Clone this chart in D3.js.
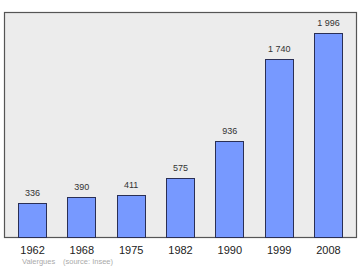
<!DOCTYPE html>
<html>
<head>
<meta charset="utf-8">
<script src="https://cdn.jsdelivr.net/npm/d3@7"></script>
<style>
  body { margin: 0; background: #fff; }
  text { font-family: "Liberation Sans", Arial, sans-serif; }
</style>
</head>
<body>
<svg id="mainsvg" width="360" height="270"></svg>
<script>
var years = ["1962", "1968", "1975", "1982", "1990", "1999", "2008"];
var population = [336, 390, 411, 575, 936, 1740, 1996];
var labels = ["336", "390", "411", "575", "936", "1 740", "1 996"];
var commune = "Valergues";
var source = "(source: Insee)";

(function () {
  var svg = d3.select("#mainsvg");
  var frameLeft = 4, frameTop = 12, frameRight = 356, frameBottom = 237;

  // frame
  svg.append("rect")
    .attr("x", frameLeft + 0.5).attr("y", frameTop + 0.5)
    .attr("width", frameRight - frameLeft).attr("height", frameBottom - frameTop)
    .style("fill", "#ececec")
    .style("stroke", "#555")
    .style("stroke-width", 1.2);

  var x = d3.scaleBand()
    .domain(years)
    .range([18, 342])
    .paddingInner(0.432)
    .paddingOuter(0);

  var y = d3.scaleLinear().domain([0, 2200]).range([frameBottom, frameTop]);

  svg.append("g").attr("class", "bars")
    .selectAll("rect")
    .data(population)
    .enter()
    .append("rect")
    .attr("x", function (d, i) { return Math.round(x(years[i])) + 0.5; })
    .attr("y", function (d) { return Math.round(y(d)) + 0.5; })
    .attr("width", Math.round(x.bandwidth()))
    .attr("height", function (d) { return frameBottom - Math.round(y(d)); })
    .style("fill", "#7799ff")
    .style("stroke", "#2a2f55")
    .style("stroke-width", 1);

  svg.append("g")
    .selectAll("text")
    .data(population)
    .enter()
    .append("text")
    .attr("x", function (d, i) { return x(years[i]) + x.bandwidth() / 2 + 0.5; })
    .attr("y", function (d) { return y(d) - 7; })
    .attr("text-anchor", "middle")
    .style("font-size", "9px")
    .style("fill", "#333")
    .text(function (d, i) { return labels[i]; });

  var axis = d3.axisBottom(x).tickSize(0).tickPadding(0);
  var ax = svg.append("g")
    .attr("transform", "translate(0.5," + (frameBottom + 17) + ")")
    .call(axis);
  ax.select(".domain").remove();
  ax.selectAll("text")
    .attr("dy", 0)
    .style("font-size", "11px")
    .style("font-family", "'Liberation Sans', Arial, sans-serif")
    .style("fill", "#222");

  svg.append("text")
    .attr("x", 22).attr("y", 264)
    .style("font-size", "7.5px")
    .style("fill", "#aaa")
    .text(commune);
  svg.append("text")
    .attr("x", 63).attr("y", 264)
    .style("font-size", "7.5px")
    .style("fill", "#aaa")
    .text(source);
})();
</script>
</body>
</html>
